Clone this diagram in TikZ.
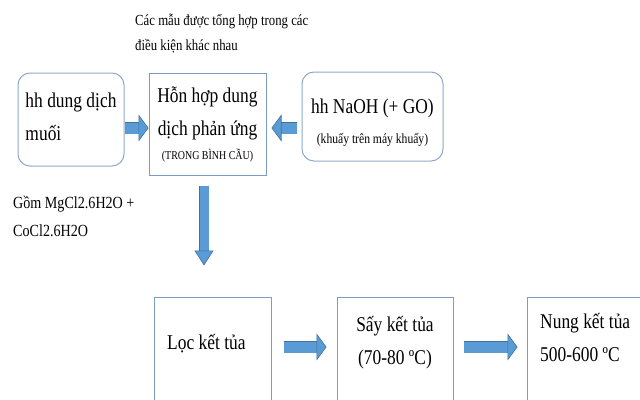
\documentclass[tikz,border=0pt]{standalone}
\usepackage{fontspec}
\setmainfont{Liberation Serif}[FakeStretch=0.83]
\usetikzlibrary{arrows.meta,positioning,calc}
\definecolor{arrowfill}{HTML}{5B9BD5}
\definecolor{arrowedge}{HTML}{41719C}
\definecolor{roundedge}{HTML}{8EA9C8}
\definecolor{boxedge}{HTML}{7A9CC6}

\begin{document}
\begin{tikzpicture}[x=1pt, y=-1pt,
		roundbox/.style={rectangle, rounded corners=12pt, draw=roundedge, line width=1pt, fill=white},
		flatbox/.style={rectangle, draw=boxedge, line width=1pt, fill=white},
		bigfont/.style={font=\fontsize{21}{33}\selectfont},
		bigarrow/.style={draw=arrowedge, line width=0.6pt, double=arrowfill, double distance=11pt, -{Triangle[length=10pt, width=27pt, fill=arrowfill]}},
		downarrow/.style={draw=arrowedge, line width=0.6pt, double=arrowfill, double distance=9pt, -{Triangle[length=15pt, width=19pt, fill=arrowfill]}}]
		\fill[white] (0,0) rectangle (640,399);
		\clip (0,0) rectangle (640,399);
		
		\node[roundbox, bigfont, align=left, minimum width=106pt, minimum height=93pt] (muoi) at (71,119.5) {hh dung dịch\\muối\rule[-6pt]{0pt}{0pt}};
		\node[flatbox, bigfont, align=center, minimum width=117pt, minimum height=102pt] (honhop) at (207.5,124) {Hỗn hợp dung\\dịch phản ứng\\[-9pt]{\fontsize{12}{14}\selectfont (TRONG BÌNH CẦU)}};
		\node[roundbox, bigfont, align=center, minimum width=141pt, minimum height=89pt] (naoh) at (372.5,116.5) {\rule{0pt}{28pt}hh NaOH (+ GO)\\[-3pt]{\fontsize{14}{16}\selectfont (khuấy trên máy khuấy)}};
		
		\node[flatbox, minimum width=117pt, minimum height=140pt] (loc) at (212.5,367) {};
		\node[flatbox, minimum width=116pt, minimum height=140pt] (say) at (395,367) {};
		\node[flatbox, minimum width=142pt, minimum height=140pt] (nung) at (598,367) {};
		
		\node[bigfont, anchor=west, inner sep=0pt] (loctext) at (167,344) {Lọc kết tủa};
		\node[bigfont, align=center, inner sep=0pt] (saytext) at (395,342.5) {Sấy kết tủa\\(70-80 ºC)};
		\node[bigfont, align=left, anchor=west, inner sep=0pt] (nungtext) at (540,337) {Nung kết tủa\\500-600 ºC};
		
		\node[font=\fontsize{15.4}{25}\selectfont, align=left, anchor=base west, inner sep=0pt] (mau) at (135,50) {Các mẫu được tổng hợp trong các\\điều kiện khác nhau};
		\node[font=\fontsize{17}{28}\selectfont, align=left, anchor=base west, inner sep=0pt] (gom) at (13,236) {Gồm MgCl2.6H2O +\\CoCl2.6H2O};
		
		\draw[bigarrow] ([yshift=-8.5pt]muoi.east) -- ([yshift=-8.5pt]muoi.east -| honhop.west);
		\draw[bigarrow, shorten <=5pt, shorten >=5pt] ([yshift=-11.5pt]naoh.west) -- ([yshift=-11.5pt]naoh.west -| honhop.east);
		\draw[downarrow, shorten <=10pt, shorten >=31pt] ([xshift=-3.5pt]honhop.south) -- ([xshift=-3.5pt]honhop.south |- loc.north);
		\draw[bigarrow, shorten <=12pt, shorten >=10pt] ([yshift=20pt]loc.east) -- ([yshift=20pt]loc.east -| say.west);
		\draw[bigarrow, shorten <=10pt, shorten >=9pt] ([yshift=20pt]say.east) -- ([yshift=20pt]say.east -| nung.west);
	\end{tikzpicture}
\end{document}
